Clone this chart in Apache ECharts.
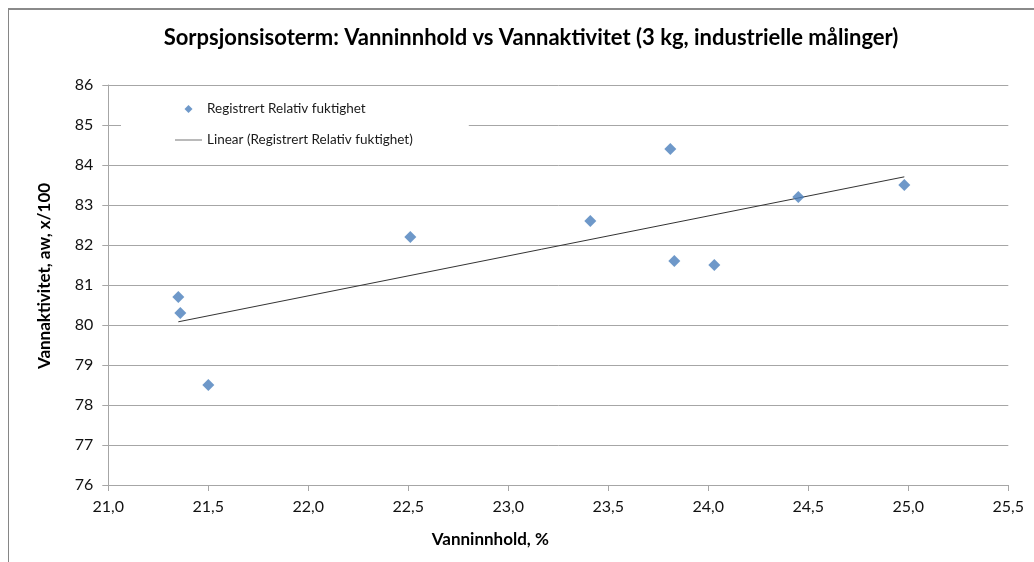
<!DOCTYPE html>
<html>
<head>
<meta charset="utf-8">
<script src="https://cdn.jsdelivr.net/npm/echarts@6/dist/echarts.min.js"></script>
<style>
  html, body { margin: 0; padding: 0; background: #fff; overflow: hidden; }
  #chart { position: absolute; left: 0; top: 0; width: 1034px; height: 562px; }
  #frame { position: absolute; left: 8px; top: 8px; width: 2000px; height: 2000px;
           border-left: 1px solid #868686; border-top: 2px solid #8a8a8a; pointer-events: none; }
</style>
</head>
<body>
<div id="chart"></div>
<div id="frame"></div>
<script>
const titleText = 'Sorpsjonsisoterm: Vanninnhold vs Vannaktivitet (3 kg, industrielle målinger)';
const xAxisName = 'Vanninnhold, %';
const yAxisName = 'Vannaktivitet, aw, x/100';
const seriesName = 'Registrert Relativ fuktighet';
const trendName = 'Linear (Registrert Relativ fuktighet)';

const waterContent = [21.35, 21.36, 21.50, 22.51, 23.41, 23.81, 23.83, 24.03, 24.45, 24.98];
const waterActivity = [80.7, 80.3, 78.5, 82.2, 82.6, 84.4, 81.6, 81.5, 83.2, 83.5];

const xMin = 21.0, xMax = 25.5, xStep = 0.5;
const yMin = 76, yMax = 86, yStep = 1;

// least-squares linear trendline from the data
const n = waterContent.length;
const mx = waterContent.reduce((a, b) => a + b, 0) / n;
const my = waterActivity.reduce((a, b) => a + b, 0) / n;
let sxy = 0, sxx = 0;
for (let i = 0; i < n; i++) {
  sxy += (waterContent[i] - mx) * (waterActivity[i] - my);
  sxx += (waterContent[i] - mx) * (waterContent[i] - mx);
}
const slope = sxy / sxx;
const intercept = my - slope * mx;
const xLo = Math.min(...waterContent), xHi = Math.max(...waterContent);
const trendData = [[xLo, intercept + slope * xLo], [xHi, intercept + slope * xHi]];

const scatterData = waterContent.map((x, i) => [x, waterActivity[i]]);

const font = 'Lato, "Open Sans", sans-serif';
const chart = echarts.init(document.getElementById('chart'), null, { renderer: 'canvas' });
chart.setOption({
  backgroundColor: '#ffffff',
  animation: false,
  title: {
    text: titleText,
    left: 526,
    textAlign: 'center',
    top: 22,
    textStyle: { fontFamily: font, fontSize: 22, fontWeight: 'bold', color: '#000' }
  },
  legend: {
    left: 121,
    top: 94,
    orient: 'vertical',
    backgroundColor: '#ffffff',
    padding: [8, 56, 10, 54],
    itemWidth: 27,
    itemHeight: 8,
    itemGap: 17,
    symbolKeepAspect: true,
    textStyle: { fontFamily: font, fontSize: 13.5, color: '#1a1a1a' },
    data: [
      { name: seriesName, icon: 'path://M5,0L10,5L5,10L0,5Z', itemStyle: { color: '#4A7EBB' } },
      { name: trendName, icon: 'path://M0,0L40,0L40,1L0,1Z', itemStyle: { color: '#333333' } }
    ]
  },
  grid: { left: 108.3, right: 25.7, top: 85, bottom: 77, containLabel: false },
  xAxis: {
    type: 'value',
    min: xMin, max: xMax, interval: xStep,
    name: xAxisName,
    nameLocation: 'middle',
    nameGap: 46,
    nameTextStyle: { fontFamily: font, fontSize: 17, fontWeight: 'bold', color: '#000', padding: [0, 136, 0, 0] },
    axisLine: { show: true, onZero: false, lineStyle: { color: '#a6a6a6', width: 1 } },
    axisTick: { show: true, length: 6, lineStyle: { color: '#a6a6a6' } },
    axisLabel: { fontFamily: font, fontSize: 16, color: '#111', margin: 14,
                 formatter: v => v.toFixed(1).replace('.', ',') },
    splitLine: { show: false }
  },
  yAxis: {
    type: 'value',
    min: yMin, max: yMax, interval: yStep,
    name: yAxisName,
    nameLocation: 'middle',
    nameRotate: 90,
    nameGap: 55,
    nameTextStyle: { fontFamily: font, fontSize: 17, fontWeight: 'bold', color: '#000', padding: [0, 0, 0, 18] },
    axisLine: { show: true, onZero: false, lineStyle: { color: '#a6a6a6', width: 1 } },
    axisTick: { show: true, length: 6, lineStyle: { color: '#a6a6a6' } },
    axisLabel: { fontFamily: font, fontSize: 16, color: '#111', margin: 15 },
    splitLine: { show: true, lineStyle: { color: '#a6a6a6', width: 1 } }
  },
  series: [
    {
      name: seriesName,
      type: 'scatter',
      data: scatterData,
      symbol: 'diamond',
      symbolSize: 12,
      itemStyle: { color: '#4A7EBB' },
      z: 3
    },
    {
      name: trendName,
      type: 'line',
      data: trendData,
      symbol: 'none',
      lineStyle: { color: '#333333', width: 1 },
      itemStyle: { color: '#333333' },
      z: 2
    }
  ]
});
</script>
</body>
</html>
